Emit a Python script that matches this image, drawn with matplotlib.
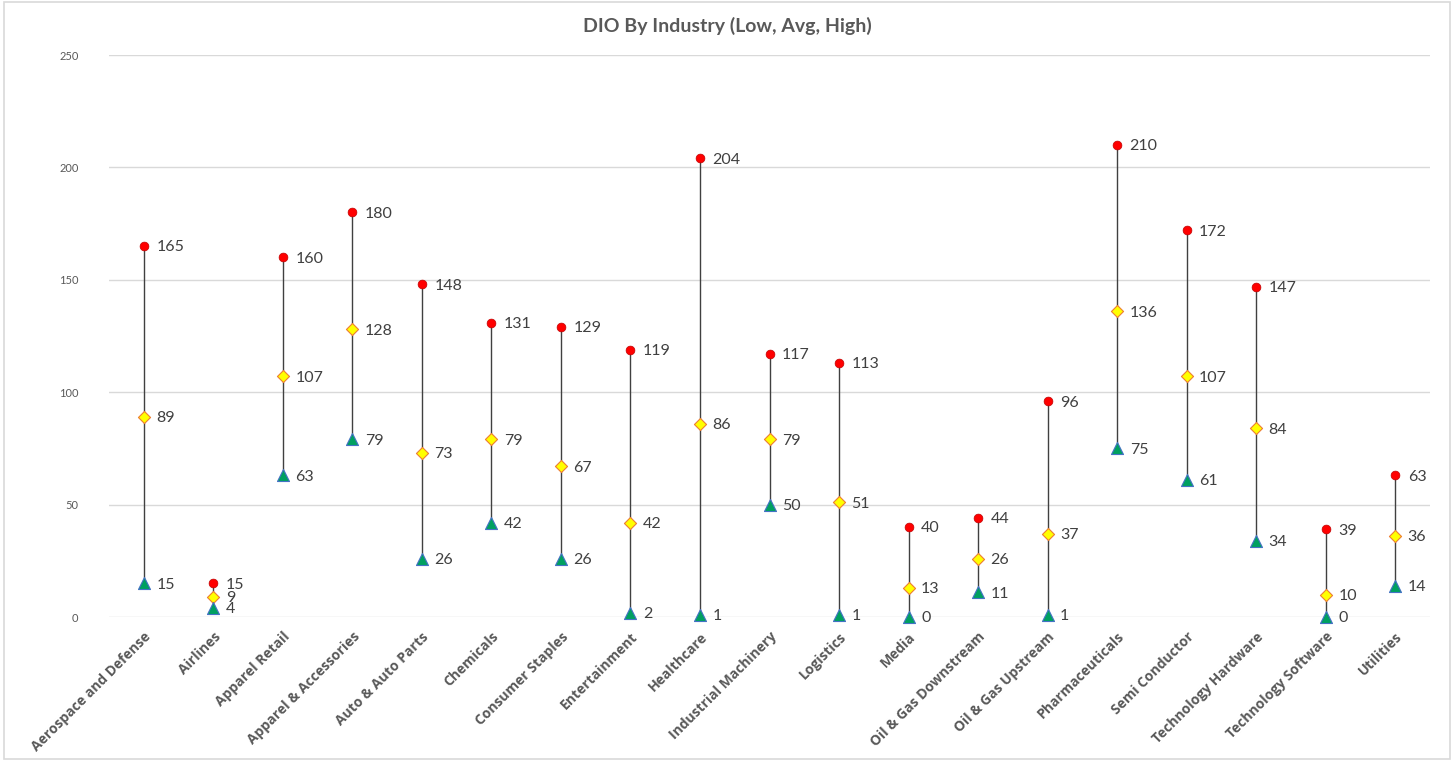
import matplotlib.pyplot as plt
from matplotlib.patches import Rectangle

industries = [
    "Aerospace and Defense", "Airlines", "Apparel Retail", "Apparel & Accessories",
    "Auto & Auto Parts", "Chemicals", "Consumer Staples", "Entertainment",
    "Healthcare", "Industrial Machinery", "Logistics", "Media",
    "Oil & Gas Downstream", "Oil & Gas Upstream", "Pharmaceuticals",
    "Semi Conductor", "Technology Hardware", "Technology Software", "Utilities",
]
high = [165, 15, 160, 180, 148, 131, 129, 119, 204, 117, 113, 40, 44, 96, 210, 172, 147, 39, 63]
avg = [89, 9, 107, 128, 73, 79, 67, 42, 86, 79, 51, 13, 26, 37, 136, 107, 84, 10, 36]
low = [15, 4, 63, 79, 26, 42, 26, 2, 1, 50, 1, 0, 11, 1, 75, 61, 34, 0, 14]

plt.rcParams['font.family'] = ['Lato', 'DejaVu Sans']

fig = plt.figure(figsize=(14.54, 7.61), dpi=100)
ax = fig.add_axes([0.075, 0.1892, 0.9085, 0.7385])

x = list(range(len(industries)))

# high-low connectors
ax.vlines(x, low, high, color='#404040', linewidth=1.0, zorder=2)

ax.scatter(x, high, marker='o', s=40, color='#FF0000', edgecolors='#C00000',
           linewidths=0.5, zorder=4, clip_on=False)
ax.scatter(x, avg, marker='D', s=38, color='#FFFF00', edgecolors='#ED7D31',
           linewidths=0.8, zorder=4, clip_on=False)
ax.scatter(x, low, marker='^', s=75, color='#00A060', edgecolors='#4472C4',
           linewidths=0.8, zorder=4, clip_on=False)

for series in (high, avg, low):
    for xi, v in zip(x, series):
        ax.annotate(str(v), (xi, v), xytext=(9, -1), textcoords='offset points',
                    ha='left', va='center', fontsize=11.5, color='#404040', zorder=5)

ax.set_xlim(-0.5, len(industries) - 0.5)
ax.set_ylim(0, 250)
ax.set_yticks(range(0, 251, 50))
ax.yaxis.grid(True, color='#D9D9D9', linewidth=1.0)
ax.set_axisbelow(True)
for side in ('top', 'right', 'left', 'bottom'):
    ax.spines[side].set_visible(False)
ax.tick_params(axis='both', length=0, colors='#595959')
ax.tick_params(axis='y', labelsize=8, pad=22)

ax.set_xticks(x)
ax.set_xticklabels(industries, rotation=45, ha='right', rotation_mode='anchor',
                   fontsize=10, fontweight='bold', color='#595959',
                   family=['Open Sans', 'DejaVu Sans'])
ax.tick_params(axis='x', pad=9)

fig.suptitle('DIO By Industry (Low, Avg, High)', x=0.5, y=0.978, fontsize=14,
             fontweight='bold', color='#595959')

fig.patches.append(Rectangle((0.003, 0.003), 0.994, 0.994, transform=fig.transFigure,
                             fill=False, edgecolor='#D9D9D9', linewidth=1.2))

fig.savefig('out.png', dpi=100, facecolor='white')
